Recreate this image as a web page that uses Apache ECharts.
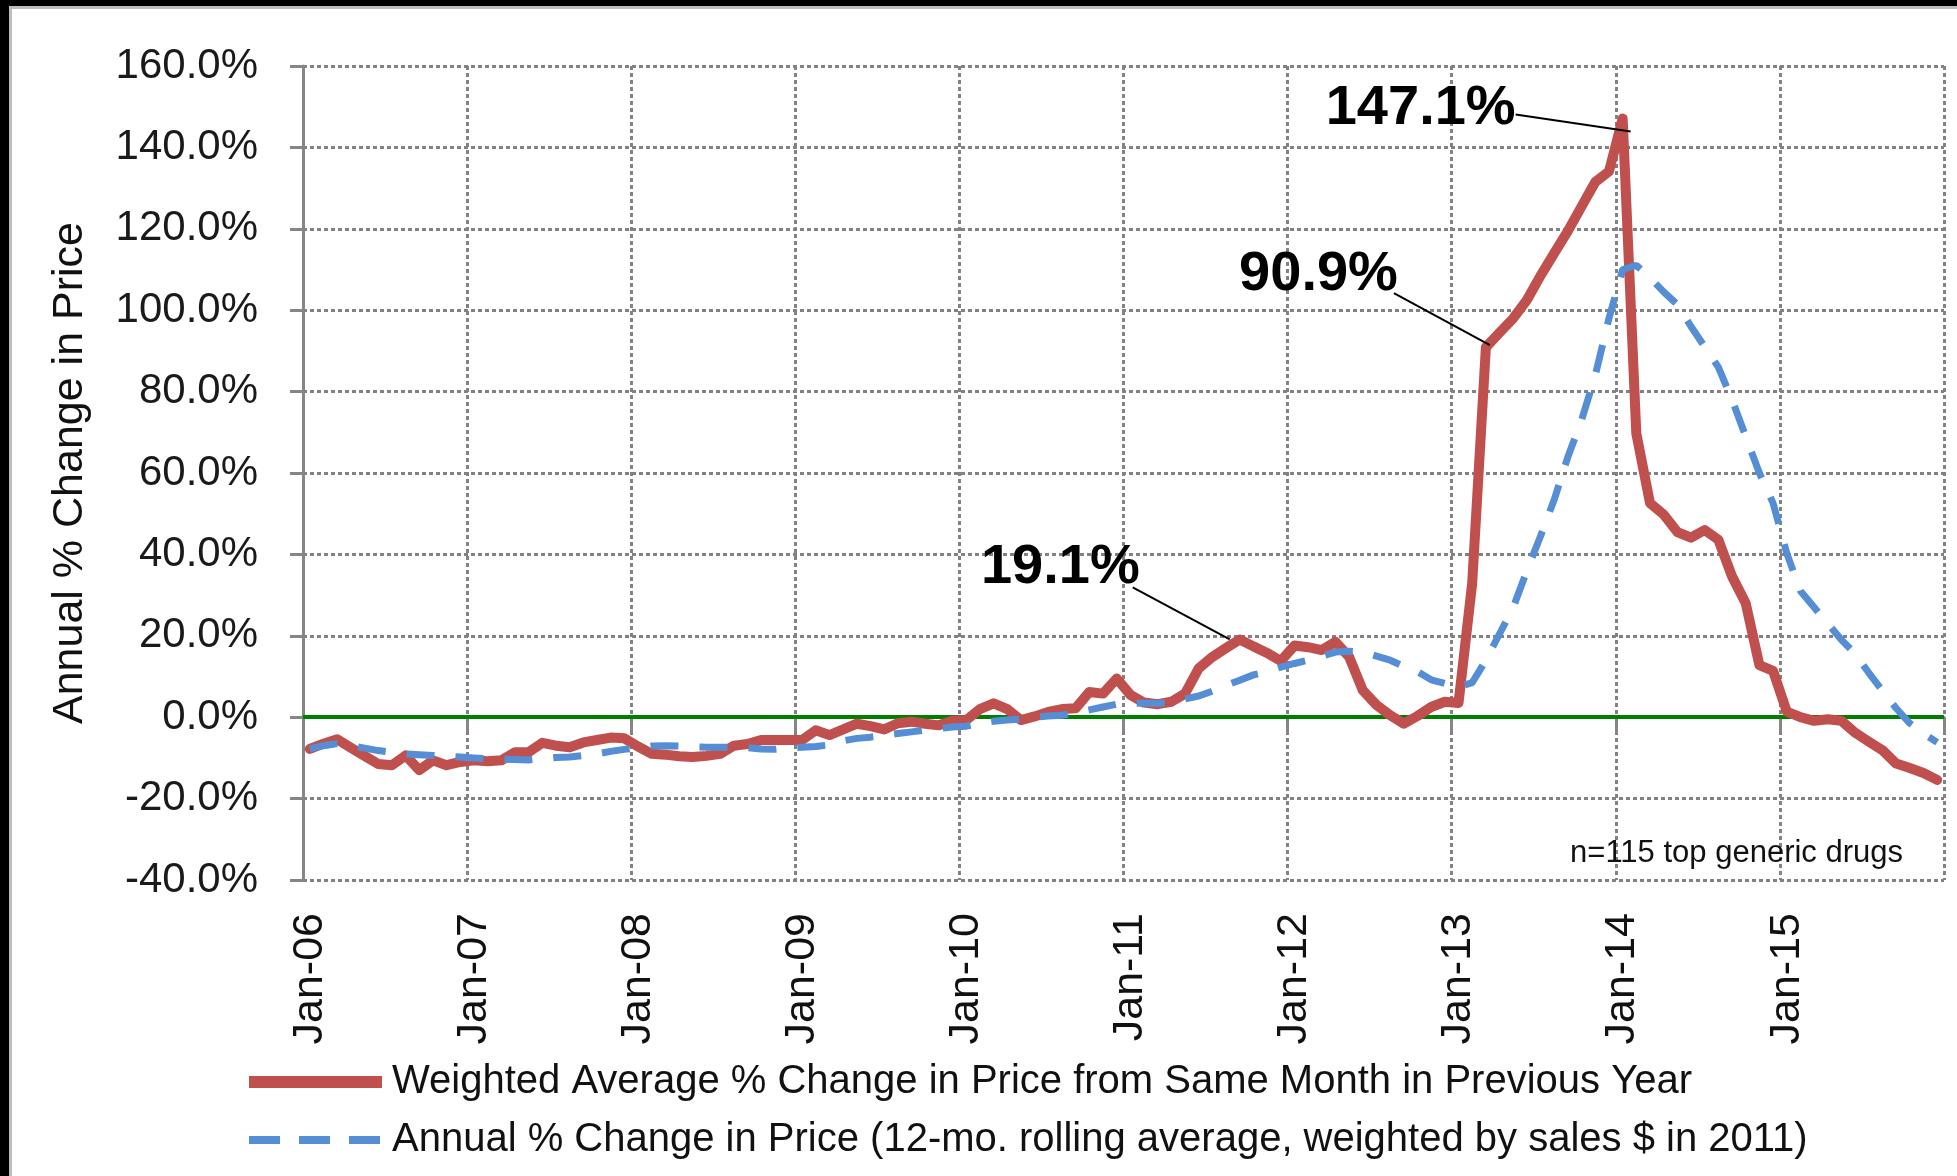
<!DOCTYPE html>
<html>
<head>
<meta charset="utf-8">
<title>Generic drug price change</title>
<script src="https://cdn.jsdelivr.net/npm/echarts@6/dist/echarts.min.js"></script>
<style>
  html, body { margin: 0; padding: 0; background: #fff; }
  #chart { width: 1957px; height: 1176px; }
</style>
</head>
<body>
<div id="chart"></div>
<script>
// categories: Jan-06 .. Dec-15
const monthNames = ['Jan', 'Feb', 'Mar', 'Apr', 'May', 'Jun', 'Jul', 'Aug', 'Sep', 'Oct', 'Nov', 'Dec'];
const years = ['06', '07', '08', '09', '10', '11', '12', '13', '14', '15'];
const months = [];
years.forEach(y => monthNames.forEach(m => months.push(m + '-' + y)));

// red: weighted avg % change vs same month previous year
const monthlyChange = [
  -7.8, -6.5, -5.4, -7.5, -9.5, -11.5, -11.8, -9.4, -13.0, -10.6, -11.8, -11.0,
  -10.6, -10.8, -10.6, -8.6, -8.6, -6.3, -7.0, -7.4, -6.2, -5.6, -5.0, -5.2,
  -7.2, -9.0, -9.2, -9.6, -9.8, -9.5, -9.0, -7.0, -6.6, -5.6, -5.6, -5.6,
  -5.6, -3.2, -4.4, -3.0, -1.6, -2.2, -3.0, -1.5, -1.1, -1.6, -2.0, -0.9,
  -0.7, 2.0, 3.4, 2.0, -0.7, 0.2, 1.3, 2.0, 2.2, 6.2, 5.8, 9.5,
  5.5, 3.6, 3.2, 3.8, 5.8, 12.0, 14.8, 17.0, 19.1, 17.4, 15.8, 13.8,
  17.6, 17.2, 16.5, 18.5, 14.8, 6.6, 3.0, 0.5, -1.6, 0.3, 2.5, 3.8,
  3.5, 33.0, 90.9, 94.5, 98.0, 102.5, 108.5, 114.0, 119.5, 125.5, 131.5, 134.1,
  147.1, 69.7, 52.6, 49.8, 45.5, 44.1, 46.0, 43.6, 34.6, 28.0, 12.8, 11.4,
  1.4, 0.0, -0.9, -0.5, -0.9, -3.8, -6.0, -8.1, -11.4, -12.5, -13.7, -15.4
];

// blue dashed: 12-mo rolling average
const rollingChange = [
  -7.8, -7.0, -6.5, -7.0, -7.6, -8.2, -8.6, -9.0, -9.2, -9.4, -9.6, -9.8,
  -10.0, -10.2, -10.3, -10.4, -10.5, -10.2, -9.9, -9.8, -9.4, -9.0, -8.4, -7.9,
  -7.5, -7.1, -7.0, -7.1, -7.3, -7.4, -7.4, -7.4, -7.5, -7.8, -7.9, -7.6,
  -7.4, -7.2, -6.8, -5.8, -5.2, -4.9, -4.5, -4.0, -3.6, -3.2, -2.8, -2.4,
  -2.2, -1.5, -1.0, -0.7, -0.5, 0.0, 0.3, 0.5, 1.0, 1.8, 2.5, 3.2,
  3.4, 3.4, 3.4, 3.6, 4.5, 5.2, 6.4, 7.8, 9.1, 10.4, 11.2, 12.3,
  13.2, 14.0, 15.0, 16.0, 16.2, 16.0, 15.0, 14.0, 12.5, 11.2, 9.2, 8.3,
  7.4, 8.5, 14.0, 20.5, 27.0, 36.0, 44.5, 53.5, 64.0, 73.0, 84.0, 98.0,
  110.0, 111.0, 108.0, 104.5, 101.4, 96.0, 91.0, 86.0, 78.0, 69.0, 60.0, 52.6,
  40.3, 31.0, 27.0, 23.0, 19.0, 15.6, 10.9, 6.5, 2.2, -1.5, -4.0, -6.2
];

const seriesNames = [
  'Weighted Average % Change in Price from Same Month in Previous Year',
  'Annual % Change in Price (12-mo. rolling average, weighted by sales $ in 2011)'
];

// points called out on the red line (month index)
const calloutIdx = [68, 86, 96];

const FONT = '"Liberation Sans", Arial, sans-serif';
const AXIS_GREY = '#868686';
const dotted = { type: [4, 3], width: 3, color: '#828282' };

// leader line / text offsets from the point, px
const calloutLayout = {
  68: { from: [-107, -52], to: [-10, 0], text: [-100, -72] },
  86: { from: [-92, -54], to: [4, -2], text: [-88, -73] },
  96: { from: [-107, -4], to: [8, 13], text: [-107, -10] }
};

let chart = echarts.init(document.getElementById('chart'));

chart.setOption({
  animation: false,
  backgroundColor: '#fff',
  grid: { left: 303, right: 13, top: 66, bottom: 296, containLabel: false, outerBoundsMode: 'none' },
  title: {
    text: 'n=115 top generic drugs',
    right: 49,
    top: 833,
    textStyle: { fontFamily: FONT, fontSize: 31, fontWeight: 'normal', color: '#111' }
  },
  legend: {
    orient: 'vertical',
    left: 238,
    top: 1057,
    itemWidth: 133,
    itemHeight: 14,
    itemGap: 18,
    data: [
      { name: seriesNames[0], itemStyle: { opacity: 0 }, lineStyle: { width: 12, type: 'solid', cap: 'butt' } },
      { name: seriesNames[1], itemStyle: { opacity: 0 }, lineStyle: { width: 8, type: [31, 19] } }
    ],
    textStyle: { fontFamily: FONT, fontSize: 40, color: '#111', padding: [0, 0, 0, 5] }
  },
  xAxis: [
    {
      // labels + vertical grid at the bottom
      type: 'category',
      data: months,
      boundaryGap: true,
      position: 'bottom',
      axisLine: { show: false, onZero: false },
      axisTick: { show: false },
      axisLabel: {
        interval: 11,
        rotate: 90,
        margin: 33,
        fontFamily: FONT,
        fontSize: 43,
        color: '#111'
      },
      splitLine: { show: true, interval: 11, lineStyle: dotted }
    },
    {
      // axis line crossing at 0%
      type: 'category',
      data: months,
      boundaryGap: true,
      position: 'bottom',
      axisLine: { show: true, onZero: true, lineStyle: { color: AXIS_GREY, width: 3 } },
      axisTick: { show: true, interval: 11, length: 15, lineStyle: { color: AXIS_GREY, width: 3 } },
      axisLabel: { show: false },
      splitLine: { show: false }
    }
  ],
  yAxis: {
    type: 'value',
    min: -40,
    max: 160,
    interval: 20,
    name: 'Annual % Change in Price',
    nameLocation: 'middle',
    nameGap: 211,
    nameTextStyle: { fontFamily: FONT, fontSize: 43, color: '#111' },
    axisLine: { show: true, onZero: false, lineStyle: { color: AXIS_GREY, width: 3 } },
    axisTick: { show: true, length: 13, lineStyle: { color: AXIS_GREY, width: 3 } },
    axisLabel: {
      margin: 45,
      fontFamily: FONT,
      fontSize: 42,
      color: '#1a1a1a',
      formatter: v => v.toFixed(1) + '%'
    },
    splitLine: { show: true, lineStyle: dotted }
  },
  series: [
    {
      name: seriesNames[0],
      type: 'line',
      xAxisIndex: 0,
      data: monthlyChange,
      symbol: 'none',
      z: 3,
      itemStyle: { color: '#C0504D' },
      lineStyle: { color: '#C0504D', width: 10, join: 'round', cap: 'round' },
      markLine: {
        silent: true,
        symbol: 'none',
        z: 2,
        label: { show: false },
        lineStyle: { color: '#008000', width: 4, type: 'solid' },
        data: [{ yAxis: 0 }]
      }
    },
    {
      name: seriesNames[1],
      type: 'line',
      xAxisIndex: 0,
      data: rollingChange,
      symbol: 'none',
      z: 4,
      itemStyle: { color: '#558ED5' },
      lineStyle: { color: '#558ED5', width: 7, type: [28, 21] }
    }
  ]
});

// callouts + frame
let graphics = [];
calloutIdx.forEach(i => {
  let p = chart.convertToPixel({ xAxisIndex: 0, yAxisIndex: 0 }, [i, monthlyChange[i]]);
  let L = calloutLayout[i];
  graphics.push({
    type: 'line',
    z: 10,
    shape: { x1: p[0] + L.from[0], y1: p[1] + L.from[1], x2: p[0] + L.to[0], y2: p[1] + L.to[1] },
    style: { stroke: '#000', lineWidth: 2 }
  });
  graphics.push({
    type: 'text',
    z: 10,
    x: p[0] + L.text[0],
    y: p[1] + L.text[1],
    style: {
      text: monthlyChange[i].toFixed(1) + '%',
      font: 'bold 56px ' + FONT,
      fill: '#000',
      align: 'right',
      verticalAlign: 'middle'
    }
  });
});
// picture border (black on top and left)
graphics.push({ type: 'rect', z: 20, shape: { x: 0, y: 0, width: 1957, height: 6 }, style: { fill: '#000' } });
graphics.push({ type: 'rect', z: 20, shape: { x: 0, y: 0, width: 9, height: 1176 }, style: { fill: '#000' } });
graphics.push({ type: 'rect', z: 20, shape: { x: 9, y: 6, width: 3, height: 1170 }, style: { fill: '#bdbdbd' } });
graphics.push({ type: 'rect', z: 20, shape: { x: 9, y: 6, width: 1948, height: 3 }, style: { fill: '#bdbdbd' } });
chart.setOption({ graphic: graphics });
</script>
</body>
</html>
